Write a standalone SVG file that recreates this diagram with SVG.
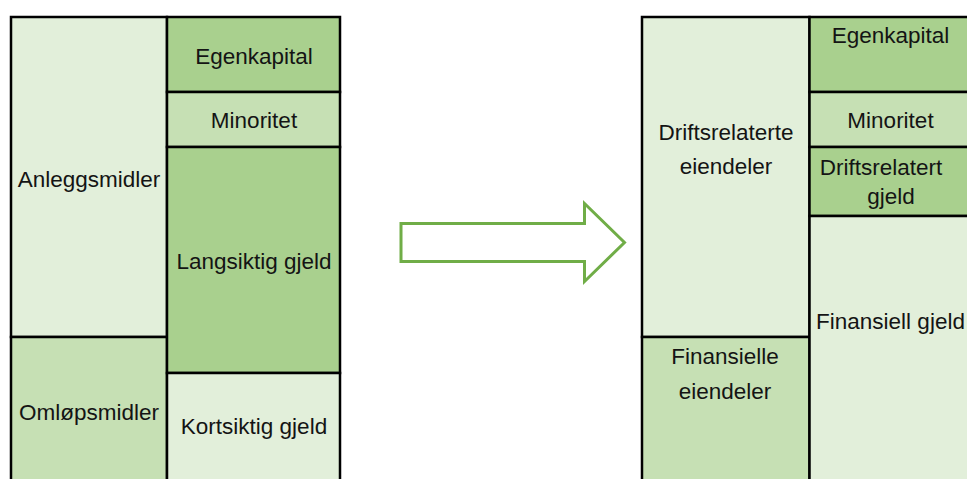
<svg xmlns="http://www.w3.org/2000/svg" width="967" height="479" viewBox="0 0 967 479">
  <style>
    .cell { stroke: #000; stroke-width: 2.5; }
    .c1 { fill: #E2EFDA; }
    .c2 { fill: #C6E0B4; }
    .c3 { fill: #A9D08E; }
    text { font-family: "Liberation Sans", Arial, sans-serif; font-size: 22.5px; fill: #141414; text-anchor: middle; }
    .arrow { fill: #fff; stroke: #70AD47; stroke-width: 3; stroke-linejoin: miter; }
  </style>
  <rect width="967" height="479" fill="#fff"/>

  <!-- Ordinary balance sheet -->
  <g id="anleggsmidler">
    <rect class="cell c1" x="11" y="17" width="156" height="320"/>
    <text x="89" y="187">Anleggsmidler</text>
  </g>
  <g id="omlopsmidler">
    <rect class="cell c2" x="11" y="337" width="156" height="150"/>
    <text x="89" y="420">Omløpsmidler</text>
  </g>
  <g id="egenkapital">
    <rect class="cell c3" x="167" y="17" width="173" height="75"/>
    <text x="254" y="64">Egenkapital</text>
  </g>
  <g id="minoritet">
    <rect class="cell c2" x="167" y="92" width="173" height="55"/>
    <text x="254" y="128">Minoritet</text>
  </g>
  <g id="langsiktig-gjeld">
    <rect class="cell c3" x="167" y="147" width="173" height="226"/>
    <text x="254" y="269">Langsiktig gjeld</text>
  </g>
  <g id="kortsiktig-gjeld">
    <rect class="cell c1" x="167" y="373" width="173" height="114"/>
    <text x="254" y="434">Kortsiktig gjeld</text>
  </g>

  <!-- Transformation arrow -->
  <g id="connectors">
    <polygon class="arrow" points="401,223.5 584.5,223.5 584.5,203.5 624.5,242.5 584.5,281.5 584.5,261.5 401,261.5"/>
  </g>

  <!-- Reorganised balance sheet -->
  <g id="driftsrelaterte-eiendeler">
    <rect class="cell c1" x="642" y="17" width="167.5" height="320"/>
    <text x="726" y="140">Driftsrelaterte</text>
    <text x="726" y="174">eiendeler</text>
  </g>
  <g id="finansielle-eiendeler">
    <rect class="cell c2" x="642" y="337" width="167.5" height="150"/>
    <text x="725" y="364">Finansielle</text>
    <text x="725" y="399">eiendeler</text>
  </g>
  <g id="egenkapital-2">
    <rect class="cell c3" x="809.5" y="17" width="170" height="75"/>
    <text x="890.5" y="43">Egenkapital</text>
  </g>
  <g id="minoritet-2">
    <rect class="cell c2" x="809.5" y="92" width="170" height="55"/>
    <text x="890.5" y="128">Minoritet</text>
  </g>
  <g id="driftsrelatert-gjeld">
    <rect class="cell c3" x="809.5" y="147" width="170" height="69"/>
    <text x="881" y="175">Driftsrelatert</text>
    <text x="891" y="204">gjeld</text>
  </g>
  <g id="finansiell-gjeld">
    <rect class="cell c1" x="809.5" y="216" width="170" height="271"/>
    <text x="890.5" y="329">Finansiell gjeld</text>
  </g>
</svg>
